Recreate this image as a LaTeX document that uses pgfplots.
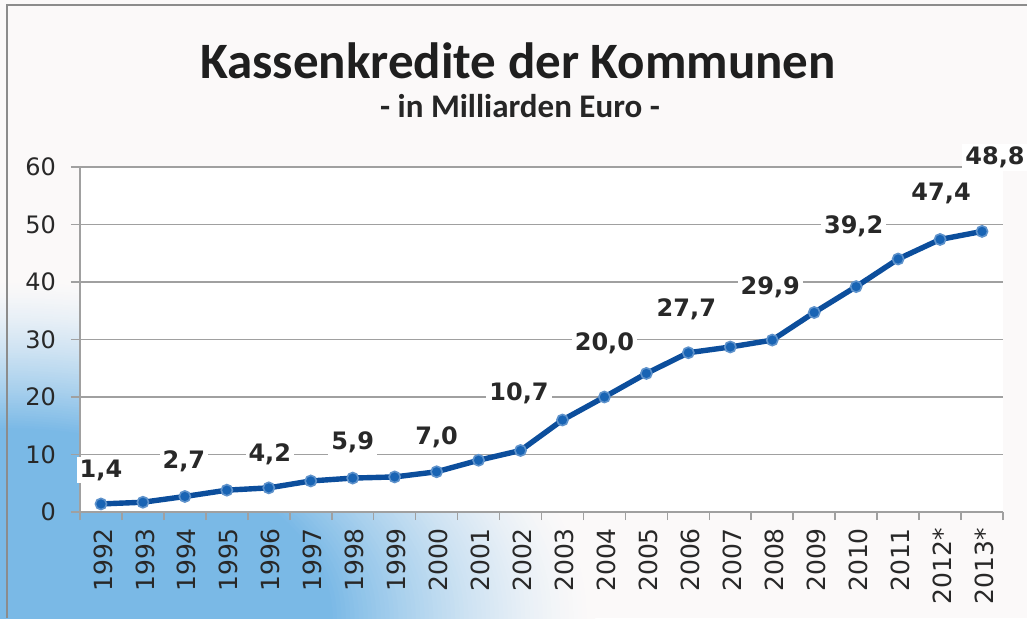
\documentclass[border=0pt]{standalone}
\usepackage{fontspec}
\setmainfont{Carlito}
\newfontfamily\dejavu{DejaVu Sans}
\usepackage{pgfplots}
\usepackage{pgfplotstable}
\pgfplotsset{compat=1.18}
\definecolor{cblue}{RGB}{122,185,230}
\definecolor{bgc}{RGB}{251,249,249}
\definecolor{linec}{RGB}{12,78,156}
\definecolor{markc}{RGB}{25,100,180}
\definecolor{gridc}{RGB}{160,160,160}
\definecolor{textc}{RGB}{40,40,40}
\definecolor{borderc}{RGB}{140,140,140}

\pgfplotstableread{
x y
0 1.4
1 1.7
2 2.7
3 3.8
4 4.2
5 5.4
6 5.9
7 6.1
8 7.0
9 9.0
10 10.7
11 16.0
12 20.0
13 24.1
14 27.7
15 28.7
16 29.9
17 34.7
18 39.2
19 44.0
20 47.4
21 48.8
}\maindata

\pgfplotstableread{
x y lbl dx dy
0 1.4 1,4 0 17
2 2.7 2,7 -0.5 17.5
4 4.2 4,2 0.5 17
6 5.9 5,9 0 18
8 7.0 7,0 0 17
10 10.7 10,7 -0.75 28.5
12 20.0 20,0 0 27
14 27.7 27,7 -1 21.5
16 29.9 29,9 -1 26.5
18 39.2 39,2 -1.25 30
20 47.4 47,4 0.5 23
21 48.8 48,8 6.5 37
}\lbldata

\begin{document}
\begin{tikzpicture}
\useasboundingbox (0,0) rectangle (513.5pt,309pt);
\fill[bgc] (0,0) rectangle (513.5pt,309pt);
\begin{scope}
\clip (0,0) rectangle (513.5pt,309pt);
\foreach \i in {0,...,60}{
  \pgfmathsetmacro\r{170-\i*75/60}
  \pgfmathsetmacro\p{100*(\i/60)^1.4}
  \fill[cblue!\p!bgc] (0,0) ellipse [x radius=1.75*\r pt, y radius=\r pt];
}
\end{scope}
\draw[line width=1.35pt, borderc] (3.5pt,0) -- (3.5pt,306.5pt) -- (513.5pt,306.5pt);
\node[anchor=base, font=\bfseries\fontsize{25.5}{30}\selectfont, text=black!88] at (259pt,270pt) {Kassenkredite der Kommunen};
\node[anchor=base, font=\bfseries\fontsize{16.5}{19}\selectfont, text=black!85] at (260pt,250.5pt) {- in Milliarden Euro -};
\begin{axis}[
  at={(40pt,53pt)}, anchor=south west,
  scale only axis, width=461.5pt, height=172.5pt,
  xmin=-0.5, xmax=21.5, ymin=0, ymax=60,
  ytick={0,10,...,60},
  xtick={0,...,21},
  xticklabels={1992,1993,1994,1995,1996,1997,1998,1999,2000,2001,2002,2003,2004,2005,2006,2007,2008,2009,2010,2011,2012*,2013*},
  minor xtick={-0.5,0.5,...,21.5},
  major x tick style={draw=none},
  minor x tick style={gridc, line width=0.8pt},
  y tick style={gridc, line width=0.8pt},
  tick align=outside,
  major tick length=4.5pt, minor tick length=4pt,
  ymajorgrids, grid style={gridc, line width=0.8pt},
  axis x line*=bottom, axis y line*=left,
  axis line style={gridc, line width=0.8pt},
  axis background/.style={fill=white},
  tick label style={font=\dejavu\fontsize{12}{14}\selectfont, text=textc},
  yticklabel style={xshift=-4pt},
  /pgf/number format/assume math mode=true,
  xticklabel style={rotate=90, anchor=east, yshift=-1pt, xshift=0pt, font=\dejavu\fontsize{12.5}{14}\selectfont},
  clip=false,
]
\addplot[linec, line width=2.7pt, mark=*, mark size=2.8pt, mark options={fill=markc, draw=markc!70!white, line width=0.8pt}] table[x=x,y=y]{\maindata};
\addplot[draw=none, mark=none, nodes near coords, point meta=explicit symbolic,
  visualization depends on={\thisrow{dx}\as\lbldx},
  visualization depends on={\thisrow{dy}\as\lbldy},
  every node near coord/.style={anchor=center, xshift=\lbldx pt, yshift=\lbldy pt, fill=white, inner sep=1.5pt, font=\dejavu\bfseries\fontsize{12}{14}\selectfont, text=textc}]
  table[x=x,y=y,meta=lbl]{\lbldata};
\end{axis}
\end{tikzpicture}
\end{document}
